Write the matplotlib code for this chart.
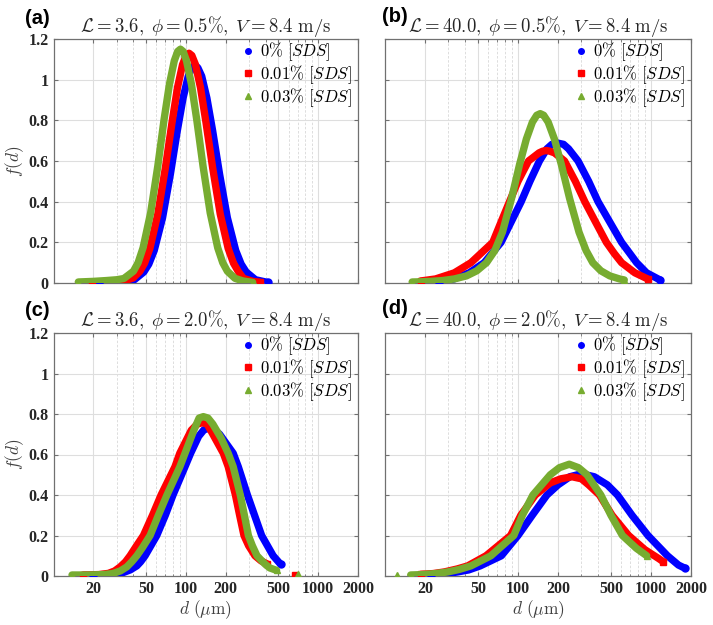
import numpy as np
import matplotlib
matplotlib.use("Agg")
import matplotlib.pyplot as plt
from matplotlib.lines import Line2D
from matplotlib.ticker import FixedLocator, LogLocator, NullFormatter

plt.rcParams["mathtext.fontset"] = "cm"
plt.rcParams["font.family"] = "Liberation Serif"

# droplet size d (um) and pdf f(d)
# (a) L=3.6, phi=0.5%
a_blue_d = [22, 30, 36, 40.8, 48.1, 52.5, 57.7, 66.7, 76.4, 86.2, 95.3, 104.3, 111.1, 117, 123.1, 131.8, 144.2, 159.4, 179.9, 206, 238.2, 261.8, 285.8, 336, 415]
a_blue_f = [0.002, 0.003, 0.006, 0.016, 0.054, 0.093, 0.16, 0.321, 0.535, 0.749, 0.91, 1.017, 1.059, 1.07, 1.059, 1.017, 0.91, 0.749, 0.535, 0.321, 0.16, 0.093, 0.054, 0.016, 0.003]
a_red_d = [19.5, 25, 30, 35, 40, 44.9, 48.8, 53.5, 61.4, 70, 78.7, 86.5, 94.4, 100.6, 105.7, 111, 118.3, 129.1, 141.9, 159.6, 182, 208.9, 229, 248.9, 272, 320, 362]
a_red_f = [0.005, 0.006, 0.008, 0.012, 0.025, 0.057, 0.098, 0.17, 0.339, 0.565, 0.791, 0.961, 1.074, 1.119, 1.13, 1.119, 1.074, 0.961, 0.791, 0.565, 0.339, 0.17, 0.098, 0.057, 0.023, 0.008, 0.004]
a_green_d = [15.4, 20, 25, 30, 34, 37, 40.2, 43.6, 47.5, 54.2, 61.4, 68.5, 75.2, 81.8, 86.8, 91, 95.4, 101.2, 110.2, 120.8, 134.9, 152.8, 174.2, 190, 206, 235, 270, 320]
a_green_f = [0.005, 0.008, 0.012, 0.016, 0.022, 0.04, 0.058, 0.1, 0.173, 0.345, 0.575, 0.805, 0.978, 1.093, 1.139, 1.15, 1.139, 1.093, 0.978, 0.805, 0.575, 0.345, 0.173, 0.1, 0.058, 0.023, 0.01, 0.003]

# (b) L=40.0, phi=0.5%
b_blue_d = [25.5, 33, 43, 55.8, 64.5, 74.6, 88.8, 105.7, 123, 145, 165, 180, 199, 220, 240, 283, 340, 400, 490, 601, 685, 780, 927, 1170]
b_blue_f = [0.005, 0.02, 0.05, 0.1, 0.15, 0.2, 0.3, 0.4, 0.5, 0.6, 0.66, 0.682, 0.688, 0.682, 0.66, 0.6, 0.5, 0.4, 0.3, 0.2, 0.15, 0.1, 0.05, 0.015]
b_red_d = [18.6, 24, 33.2, 44.3, 53.5, 64.6, 74.6, 86.3, 100, 120, 144, 153, 163, 174, 188, 224, 270, 318, 383, 462, 530, 601, 757, 944]
b_red_f = [0.01, 0.02, 0.05, 0.1, 0.15, 0.2, 0.3, 0.4, 0.5, 0.6, 0.64, 0.648, 0.652, 0.648, 0.64, 0.6, 0.5, 0.4, 0.3, 0.2, 0.145, 0.1, 0.05, 0.02]
b_green_d = [16, 18.5, 22, 27, 33.2, 41, 49, 58, 67, 76.4, 89.5, 102.8, 115.6, 128.3, 138.4, 147, 156, 168.7, 187.9, 211.8, 244.3, 287.7, 325, 365, 420, 490, 580, 630]
b_green_f = [0.005, 0.006, 0.008, 0.012, 0.02, 0.035, 0.06, 0.1, 0.16, 0.25, 0.4165, 0.583, 0.708, 0.791, 0.825, 0.833, 0.825, 0.791, 0.708, 0.583, 0.4165, 0.25, 0.16, 0.1, 0.06, 0.035, 0.02, 0.015]

# (c) L=3.6, phi=2.0%
c_blue_d = [20, 26, 33, 38, 42.6, 45.5, 49.2, 60.3, 70, 80, 98.6, 108.7, 125, 137, 150, 165, 180, 228, 249, 292, 374, 457, 520]
c_blue_f = [0.003, 0.006, 0.015, 0.03, 0.05, 0.07, 0.1, 0.2, 0.3, 0.4, 0.54, 0.606, 0.69, 0.722, 0.73, 0.722, 0.7, 0.606, 0.54, 0.4, 0.2, 0.1, 0.058]
c_red_d = [16.8, 22, 26, 29, 31.9, 35, 37.9, 42, 47.8, 56, 65, 82.8, 90, 110, 122, 133, 145, 160, 192, 209, 237, 255, 275, 298, 333, 370, 410]
c_red_f = [0.005, 0.007, 0.013, 0.025, 0.045, 0.07, 0.1, 0.145, 0.2, 0.3, 0.4, 0.54, 0.606, 0.72, 0.75, 0.757, 0.75, 0.7, 0.606, 0.54, 0.4, 0.3, 0.2, 0.15, 0.1, 0.075, 0.06]
c_green_d = [13.8, 18, 24, 28, 32, 35.8, 39, 42.6, 47, 53.7, 62, 72, 90.2, 98.6, 115, 126, 135.6, 147, 160, 185, 209, 228, 258, 277, 297, 318, 345, 395, 430, 485]
c_green_f = [0.005, 0.005, 0.007, 0.012, 0.025, 0.045, 0.07, 0.1, 0.14, 0.2, 0.3, 0.4, 0.54, 0.606, 0.72, 0.78, 0.787, 0.78, 0.75, 0.68, 0.606, 0.54, 0.4, 0.3, 0.2, 0.15, 0.1, 0.06, 0.04, 0.028]
c_red_out = ([667], [0.005])
c_green_out = ([706], [0.008])

# (d) L=40.0, phi=2.0%
d_blue_d = [22.1, 28, 35.1, 42.6, 52, 75, 100, 128, 165, 200, 245, 300, 375, 470, 560, 720, 950, 1330, 1610, 1807]
d_blue_f = [0.005, 0.01, 0.02, 0.03, 0.05, 0.1, 0.2, 0.3, 0.4, 0.45, 0.49, 0.505, 0.49, 0.45, 0.4, 0.3, 0.2, 0.1, 0.054, 0.038]
d_red_d = [18.6, 23, 27.9, 35, 41.9, 57.5, 88, 105, 135, 175, 210, 255, 300, 340, 410, 510, 680, 900, 1138, 1241]
d_red_f = [0.008, 0.012, 0.02, 0.035, 0.05, 0.1, 0.2, 0.3, 0.4, 0.46, 0.48, 0.49, 0.48, 0.45, 0.4, 0.3, 0.2, 0.13, 0.087, 0.07]
d_green_d = [15.6, 19.2, 24, 29.6, 36, 44.3, 62.6, 93, 108, 129.5, 175, 205, 243, 285, 330, 420, 500, 610, 776, 929]
d_green_f = [0.005, 0.007, 0.012, 0.02, 0.032, 0.05, 0.1, 0.2, 0.3, 0.4, 0.5, 0.535, 0.552, 0.535, 0.5, 0.4, 0.3, 0.2, 0.137, 0.1]
d_green_out = ([12.4], [0.004])

labels = [r"$0\%\ [SDS]$", r"$0.01\%\ [SDS]$", r"$0.03\%\ [SDS]$"]
colors = ["#0000ff", "#ff0000", "#77ac30"]
markers = ["o", "s", "^"]

titles = [
    r"$\mathcal{L} = 3.6,\;\phi = 0.5\%,\;V = 8.4\ \mathrm{m/s}$",
    r"$\mathcal{L} = 40.0,\;\phi = 0.5\%,\;V = 8.4\ \mathrm{m/s}$",
    r"$\mathcal{L} = 3.6,\;\phi = 2.0\%,\;V = 8.4\ \mathrm{m/s}$",
    r"$\mathcal{L} = 40.0,\;\phi = 2.0\%,\;V = 8.4\ \mathrm{m/s}$",
]
panel_tags = ["(a)", "(b)", "(c)", "(d)"]
xticks = [20, 50, 100, 200, 500, 1000, 2000]
yticks = [0, 0.2, 0.4, 0.6, 0.8, 1, 1.2]

panels = [
    [(a_blue_d, a_blue_f), (a_red_d, a_red_f), (a_green_d, a_green_f)],
    [(b_blue_d, b_blue_f), (b_red_d, b_red_f), (b_green_d, b_green_f)],
    [(c_blue_d, c_blue_f), (c_red_d, c_red_f), (c_green_d, c_green_f)],
    [(d_blue_d, d_blue_f), (d_red_d, d_red_f), (d_green_d, d_green_f)],
]
outliers = {2: [(1, c_red_out), (2, c_green_out)], 3: [(2, d_green_out)]}

W, H = 713, 625
fig = plt.figure(figsize=(W / 100, H / 100), dpi=100)
rects = [
    [53.5 / W, 1 - 283 / H, 304.5 / W, 244 / H],
    [385 / W, 1 - 283 / H, 306 / W, 244 / H],
    [53.5 / W, 1 - 576 / H, 304.5 / W, 243 / H],
    [385 / W, 1 - 576 / H, 306 / W, 243 / H],
]
tag_pos = [(25, 18), (382, 17), (25, 311), (382, 309)]
dark = "#262626"

for i, ax_rect in enumerate(rects):
    ax = fig.add_axes(ax_rect)
    ax.set_xscale("log")
    ax.set_xlim(10, 2000)
    ax.set_ylim(0, 1.2)

    for k, (d, f) in enumerate(panels[i]):
        ax.plot(d, f, color=colors[k], lw=5.3, solid_capstyle="round",
                solid_joinstyle="round", marker=markers[k], ms=5,
                markevery=[0, len(d) - 1], zorder=3 + k)
    for k, (od, of) in outliers.get(i, []):
        ax.plot(od, of, ls="none", color=colors[k], marker=markers[k], ms=5, zorder=3 + k)

    ax.xaxis.set_major_locator(FixedLocator(xticks))
    ax.xaxis.set_minor_locator(LogLocator(base=10, subs=np.arange(1, 10), numticks=20))
    ax.xaxis.set_minor_formatter(NullFormatter())
    ax.set_yticks(yticks)
    ax.grid(True, which="major", color="#dedede", lw=0.8)
    ax.grid(True, which="minor", axis="x", color="#d8d8d8", lw=0.6, ls=(0, (3, 2)))
    ax.set_axisbelow(True)
    ax.tick_params(which="both", direction="in", top=True, right=True,
                   colors="#707070", labelcolor=dark)
    ax.tick_params(which="major", length=3)
    ax.tick_params(which="minor", length=1.8)
    for s in ax.spines.values():
        s.set_color("#707070")
        s.set_linewidth(0.9)

    if i in (0, 2):
        ax.set_yticklabels(["0", "0.2", "0.4", "0.6", "0.8", "1", "1.2"])
        ax.set_ylabel(r"$f(d)$", fontsize=12.5, color="#404040", labelpad=2)
    else:
        ax.set_yticklabels([])
    if i in (2, 3):
        ax.set_xticklabels([str(t) for t in xticks])
        ax.set_xlabel(r"$d\ (\mu\mathrm{m})$", fontsize=12.5, color="#404040", labelpad=1)
    else:
        ax.set_xticklabels([])
    for lab in ax.get_xticklabels() + ax.get_yticklabels():
        lab.set_fontweight("bold")
        lab.set_fontsize(11.5)

    ax.set_title(titles[i], fontsize=13.5, color=dark, pad=5)

    handles = [Line2D([], [], ls="none", marker=markers[k], color=colors[k], ms=4)
               for k in range(3)]
    ax.legend(handles, labels, loc="upper right", bbox_to_anchor=(0.985, 1.0),
              frameon=False, fontsize=12, handlelength=0.6, handletextpad=0.4,
              labelspacing=0.0, borderaxespad=0.0, borderpad=0.1)

    tx, ty = tag_pos[i]
    fig.text(tx / W, 1 - ty / H, panel_tags[i], fontsize=14.5, fontweight="bold",
             family="Liberation Sans", va="center", ha="left")

fig.savefig("out.png", dpi=100)
